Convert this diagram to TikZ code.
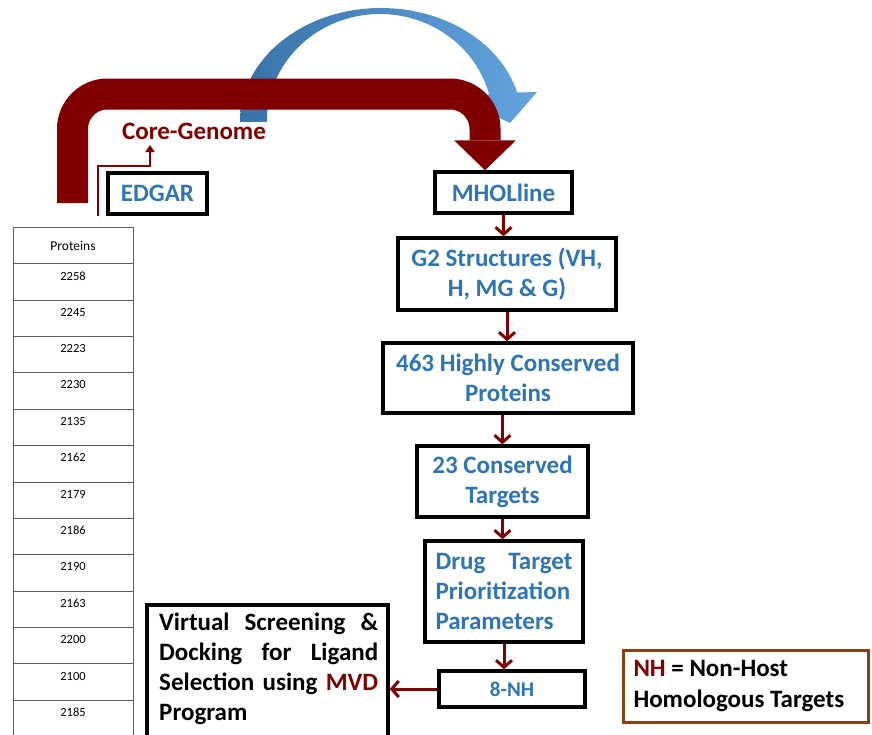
\documentclass[tikz,border=0pt]{standalone}
\usepackage{fontspec}
\setmainfont{Carlito}
\usetikzlibrary{arrows.meta}
\definecolor{dred}{RGB}{128,0,0}
\definecolor{tblue}{RGB}{46,117,182}
\definecolor{bdark}{RGB}{56,114,168}
\definecolor{blight}{RGB}{100,165,224}
\definecolor{brownb}{RGB}{140,62,20}
\definecolor{gridc}{RGB}{95,95,95}
\newcommand\jline[2]{{\spaceskip=0pt\xspaceskip=0pt\makebox[#1][s]{#2}}}
\newcommand\normspace{\spaceskip=0pt\xspaceskip=0pt\relax}
\begin{document}
\begin{tikzpicture}[x=1pt,y=-1pt,
  bigfont/.style={font=\fontsize{25}{30}\selectfont\bfseries},
  box/.style={draw=black, line width=3.5pt, rectangle, inner sep=0pt, bigfont},
  btext/.style={text=tblue, align=center},
  flow/.style={draw=dred, line width=3pt, -{Straight Barb[length=7pt,width=16pt]}},
  corearrow/.style={draw=dred, line width=2pt, -{Triangle[length=7pt,width=9pt]}},
  band/.style={draw=dred, line width=31pt, rounded corners=35pt, -{Triangle[length=30pt,width=62pt,line width=0pt]}},
  gridline/.style={draw=gridc, line width=0.9pt},
  tnum/.style={font=\fontsize{12.5}{14}\selectfont, inner sep=0pt}]
\clip (0,0) rectangle (872,734);
\fill[white] (0,0) rectangle (872,734);

% blue curved arrow
\shade[left color=bdark, right color=blight]
  (240,122) arc[start angle=180, end angle=345, x radius=141, y radius=114]
  -- (537,92) -- (510,123) -- (470,104) -- (489,94)
  arc[start angle=345, end angle=180, x radius=113, y radius=108] -- cycle;

% boxes
\node[box, minimum width=99pt, minimum height=41pt, btext] (edgar) at (157.5,193.5) {EDGAR};
\node[box, minimum width=137pt, minimum height=41pt, btext] (mhol) at (503.5,192.5) {MHOLline};
\node[box, minimum width=218pt, minimum height=72pt, btext] (g2) at (507,274) {G2 Structures (VH,\\H, MG \& G)};
\node[box, minimum width=250pt, minimum height=70pt, btext] (hc) at (508,378) {463 Highly Conserved\\Proteins};
\node[box, minimum width=171pt, minimum height=71pt, btext] (ct) at (502.5,481.5) {23 Conserved\\Targets};
\node[box, minimum width=158pt, minimum height=101pt, text=tblue, align=left] (dt) at (504,591.5)
  {\jline{137pt}{Drug Target}\\\jline{137pt}{Prioritization}\\Parameters};
\node[box, minimum width=146pt, minimum height=36pt, btext, font=\fontsize{21}{26}\selectfont\bfseries] (nh) at (512,689) {8-NH};
\node[box, minimum width=241pt, minimum height=150pt, anchor=north] (vs) at (267.5,603) {};
\node[bigfont, anchor=north west, inner sep=0pt, text width=219pt, align=left] (vstext) at (159,613)
  {\jline{219pt}{Virtual Screening \&}\\\jline{219pt}{Docking for Ligand}\\\jline{219pt}{Selection using \textcolor{dred}{MVD}}\\Program};
\node[box, draw=brownb, line width=3pt, minimum width=245pt, minimum height=72pt, text width=224pt, align=left] (legend) at (745.5,686)
  {\normspace\textcolor{dred}{NH} = Non-Host\\Homologous Targets};

% core genome label
\node[bigfont, text=dred, inner sep=0pt] (core) at (194,131) {Core-Genome};

% big red arrow
\coordinate (bandstart) at (72.5,203);
\draw[band] (bandstart) -- (72.5,94) -- (485,94) -- (mhol.north -| 485,0);

% core genome arrow
\coordinate (cgtip) at (150,145);
\draw[corearrow] ([xshift=-8pt]edgar.south west) -- ++(0,-50) -| (cgtip);

% flow arrows
\draw[flow] (mhol.south) -- (mhol.south |- g2.north);
\draw[flow] (g2.south) -- (g2.south |- hc.north);
\draw[flow] (ct.north |- hc.south) -- (ct.north);
\draw[flow] (ct.south) -- (ct.south |- dt.north);
\draw[flow] (dt.south) -- (dt.south |- nh.north);
\draw[flow] (nh.west) -- (nh.west -| vs.east);

% table
\foreach \i in {0,...,13} {
  \draw[gridline] (13,{227.3+36.38*\i}) -- (133,{227.3+36.38*\i});
}
\draw[gridline] (13,227.3) -- (13,740);
\draw[gridline] (133,227.3) -- (133,740);
\node[font=\fontsize{13.5}{15}\selectfont, inner sep=0pt] (phead) at (73,245.5) {Proteins};
\foreach \v [count=\i] in {2258,2245,2223,2230,2135,2162,2179,2186,2190,2163,2200,2100,2185} {
  \node[tnum] (r\i) at (73,{263.3+36.38*(\i-1)+12.5}) {\v};
}
\end{tikzpicture}
\end{document}
